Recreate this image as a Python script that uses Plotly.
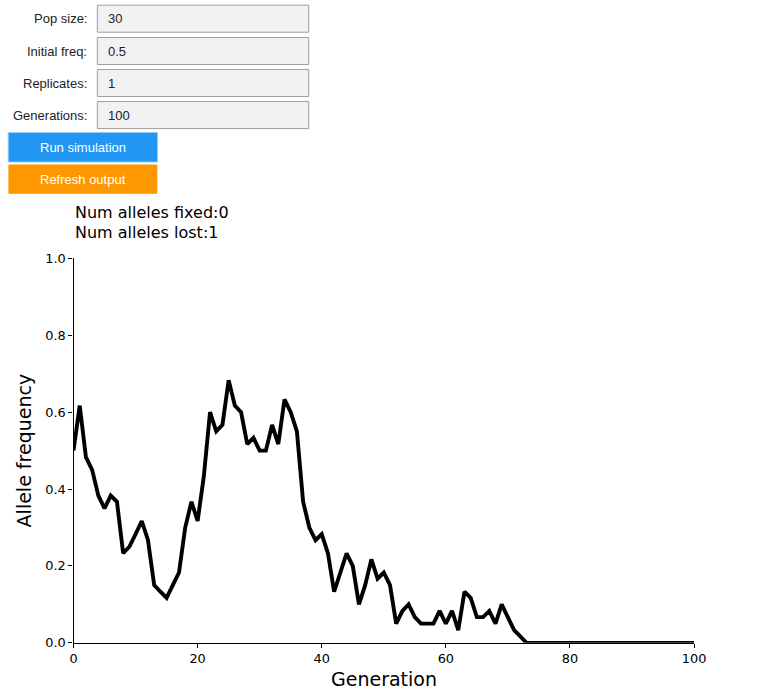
import plotly.graph_objects as go

# genetic drift simulation, one replicate, pop size 30
generations = list(range(0, 101))
allele_freq = [
    0.5, 0.617, 0.483, 0.45, 0.383, 0.35, 0.383, 0.367, 0.233, 0.25,
    0.283, 0.317, 0.267, 0.15, 0.133, 0.117, 0.15, 0.183, 0.3, 0.367,
    0.317, 0.433, 0.6, 0.55, 0.567, 0.683, 0.617, 0.6, 0.517, 0.533,
    0.5, 0.5, 0.567, 0.517, 0.633, 0.6, 0.55, 0.367, 0.3, 0.267,
    0.283, 0.233, 0.133, 0.183, 0.233, 0.2, 0.1, 0.15, 0.217, 0.167,
    0.183, 0.15, 0.05, 0.083, 0.1, 0.067, 0.05, 0.05, 0.05, 0.083,
    0.05, 0.083, 0.033, 0.133, 0.117, 0.067, 0.067, 0.083, 0.05, 0.1,
    0.067, 0.033, 0.017,
] + [0.0] * 28

input_labels = ["Pop size:", "Initial freq:", "Replicates:", "Generations:"]
input_values = ["30", "0.5", "1", "100"]
button_labels = ["Run simulation", "Refresh output"]
button_colors = ["#2196f3", "#ff9800"]
status_lines = ["Num alleles fixed:0", "Num alleles lost:1"]

# figure a bit bigger than the window, the photo comes out slightly shrunk
W, H = 786, 700
SX, OX = 0.978, 4.1
SY, OY = 0.978, 7.8


def px(x):
    # wanted screen pixel -> paper fraction
    return ((x - OX) / SX) / W


def py(y):
    return 1 - ((y - OY) / SY) / H


fig = go.Figure()

fig.add_trace(
    go.Scatter(
        x=generations,
        y=allele_freq,
        mode="lines",
        line=dict(color="black", width=3.9),
        showlegend=False,
        hoverinfo="x+y",
    )
)

shapes = []
annotations = []
widget_font = dict(family="Liberation Sans", size=13, color="#222")

# the ipywidgets text boxes on top
box_tops = [6, 38.3, 70.3, 102.3]
for label, value, top in zip(input_labels, input_values, box_tops):
    shapes.append(
        dict(
            type="rect", xref="paper", yref="paper",
            x0=px(97.3), x1=px(308.3), y0=py(top), y1=py(top + 27),
            fillcolor="#f2f2f2", line=dict(color="#9e9e9e", width=1),
        )
    )
    annotations.append(
        dict(
            text=label, xref="paper", yref="paper", x=px(89), y=py(top + 13.5),
            xanchor="right", yanchor="middle", showarrow=False, font=widget_font,
        )
    )
    annotations.append(
        dict(
            text=value, xref="paper", yref="paper", x=px(106), y=py(top + 13.5),
            xanchor="left", yanchor="middle", showarrow=False, font=widget_font,
        )
    )

# buttons
button_boxes = [(8.3, 157.3, 133.3, 162.7), (9, 156.7, 165.7, 194)]
button_edges = ["#90caf9", "#ff9800"]
for label, color, edge, (x0, x1, y0, y1) in zip(
    button_labels, button_colors, button_edges, button_boxes
):
    shapes.append(
        dict(
            type="rect", xref="paper", yref="paper",
            x0=px(x0), x1=px(x1), y0=py(y0), y1=py(y1),
            fillcolor=color, line=dict(color=edge, width=1),
        )
    )
    annotations.append(
        dict(
            text=label, xref="paper", yref="paper", x=px((x0 + x1) / 2),
            y=py((y0 + y1) / 2), xanchor="center", yanchor="middle",
            showarrow=False,
            font=dict(family="Liberation Sans", size=13, color="white"),
        )
    )

# printed output above the plot
for i, line in enumerate(status_lines):
    annotations.append(
        dict(
            text=line, xref="paper", yref="paper", x=px(73), y=py(213.5 + 19.5 * i),
            xanchor="left", yanchor="middle", showarrow=False,
            font=dict(family="DejaVu Sans", size=16, color="black"),
        )
    )

# axis titles placed by hand
annotations.append(
    dict(
        text="Generation", xref="paper", yref="paper", x=px(383), y=py(679.5),
        xanchor="center", yanchor="middle", showarrow=False,
        font=dict(family="DejaVu Sans", size=19, color="black"),
    )
)
annotations.append(
    dict(
        text="Allele frequency", xref="paper", yref="paper", x=px(25), y=py(451),
        xanchor="center", yanchor="middle", showarrow=False, textangle=-90,
        font=dict(family="DejaVu Sans", size=19, color="black"),
    )
)

fig.update_layout(
    width=W,
    height=H,
    margin=dict(l=0, r=0, t=0, b=0),
    paper_bgcolor="white",
    plot_bgcolor="white",
    font=dict(family="DejaVu Sans", color="black"),
    shapes=shapes,
    annotations=annotations,
    xaxis=dict(
        domain=[px(73.5), px(693)],
        range=[0, 100],
        tickvals=[0, 20, 40, 60, 80, 100],
        ticks="outside", ticklen=4, tickwidth=1, tickcolor="black",
        showline=True, linecolor="black", linewidth=1.2,
        showgrid=False, zeroline=False,
        tickfont=dict(size=12.9),
        anchor="y",
    ),
    yaxis=dict(
        domain=[py(643.3), py(259)],
        range=[0, 1.0],
        tickvals=[0, 0.2, 0.4, 0.6, 0.8, 1.0],
        tickformat=".1f",
        ticks="outside", ticklen=4, tickwidth=1, tickcolor="black",
        showline=True, linecolor="black", linewidth=1.2,
        showgrid=False, zeroline=False,
        tickfont=dict(size=12.9),
        anchor="x",
    ),
)

# drop the default body margin so the figure starts at the window corner
fig.write_html(
    "out.html",
    config={"displayModeBar": False},
    post_script="document.body.style.margin='0';document.body.style.overflow='hidden';",
)
